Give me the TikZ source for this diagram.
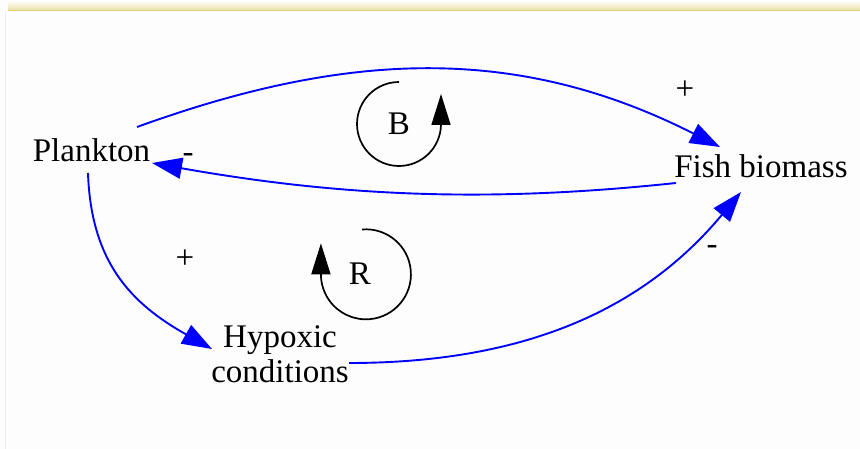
\documentclass[tikz,border=0pt]{standalone}
\usepackage{fontspec}
\setmainfont{Liberation Serif}
\usetikzlibrary{arrows.meta}
\definecolor{bandyellow}{RGB}{222,208,110}
\definecolor{bgwhite}{RGB}{253,253,253}
\tikzset{
  lbl/.style={inner sep=0pt, font=\fontsize{33}{35}\selectfont},
  sign/.style={inner sep=0pt, anchor=base, font=\fontsize{33}{35}\selectfont},
  link/.style={draw=blue, line width=1.9pt, -{Triangle[length=30pt,width=21pt]}},
  loopline/.style={draw=black, line width=1.7pt, -{Triangle[length=31pt,width=19pt]}},
}
\begin{document}
\begin{tikzpicture}[x=1pt,y=1pt]
\useasboundingbox (0,0) rectangle (860,449);
\fill[bgwhite] (0,0) rectangle (860,449);
\shade[top color=white, bottom color=bandyellow!65] (8,438) rectangle (860,449);
\draw[bandyellow, line width=1.6pt] (8,438.5) -- (860,438.5);
\draw[black!8, line width=0.8pt] (5,0) -- (5,438);

% nodes
\node[lbl, anchor=base] (pl) at (91.5,287) {Plankton};
\node[lbl, anchor=base] (fb) at (761,271) {Fish biomass};
\node[lbl, anchor=base, align=center] (hy) at (280,66) {Hypoxic\\conditions};

% connectors
\draw[link] ([xshift=45.5pt,yshift=35pt]pl.base) .. controls +(207,75) and +(-205,104) .. ([xshift=-41pt,yshift=31pt]fb.base);
\draw[link] ([xshift=-85pt,yshift=-5pt]fb.base) .. controls +(-179,-19) and +(197,-35) .. ([xshift=60.5pt,yshift=-1pt]pl.base);
\draw[link] ([xshift=-3.5pt,yshift=-11pt]pl.base) .. controls +(3,-90) and +(-80,45) .. ([xshift=-68pt,yshift=34pt]hy.base);
\draw[link] ([xshift=69pt,yshift=20pt]hy.base) .. controls +(180,0) and +(-96,-115) .. ([xshift=-20pt,yshift=-14pt]fb.base);

% polarity signs
\node[sign] (s1) at (685,349) {+};
\node[sign] (s2) at (188,286) {-};
\node[sign] (s3) at (185,180) {+};
\node[sign] (s4) at (712,194) {-};

% loop markers
\node[lbl] (B) at (399,325) {B};
\draw[loopline] ([yshift=42pt]B.center) arc[start angle=90, end angle=360, radius=42pt] -- ++(0pt,30pt);
\node[lbl] (R) at (360,175) {R};
\draw[loopline] ([xshift=2pt,yshift=44.5pt]R.center) arc[start angle=95, end angle=-180, radius=45pt] -- ++(0pt,31pt);
\end{tikzpicture}
\end{document}
